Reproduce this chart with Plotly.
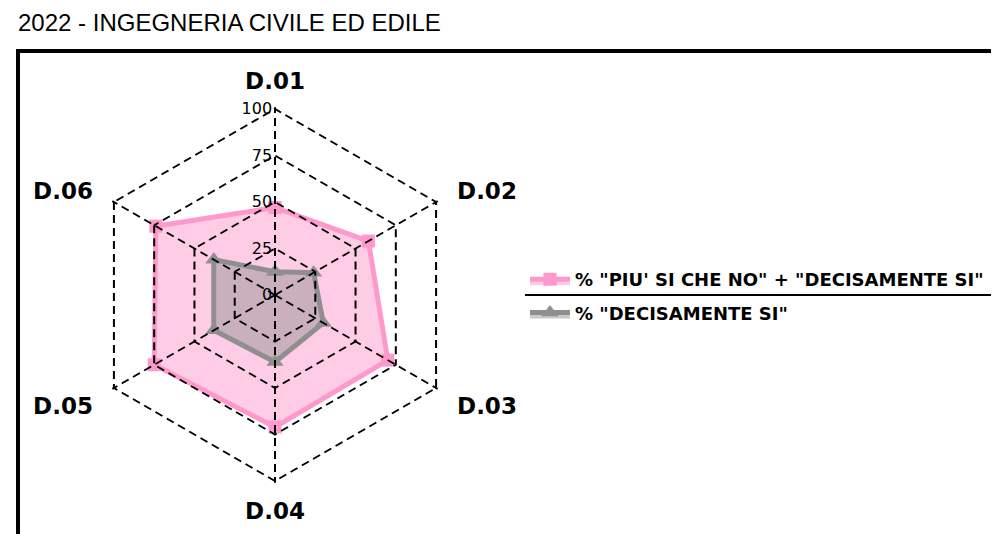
#
# Radar chart - questionario 2022, Ingegneria Civile ed Edile
#

import plotly.graph_objects as go

categories = ["D.01", "D.02", "D.03", "D.04", "D.05", "D.06"]
piu_si_che_no_e_decisamente_si = [47, 58, 70, 71, 75, 74]
decisamente_si = [12.5, 24, 30, 36, 38, 38]
radial_ticks = [0, 25, 50, 75, 100]

name1 = '% "PIU\' SI CHE NO" + "DECISAMENTE SI"'
name2 = '% "DECISAMENTE SI"'

# la pagina ha un margine di 8px: il grafico parte da (8, 8)
W, H = 991, 526
cx, cy = 267, 287
R = 186 * 101 / 100   # raggio del dominio per il range [0, 101]
domain = dict(x=[(cx - R) / W, (cx + R) / W],
              y=[(H - cy - R) / H, (H - cy + R) / H])
grid = dict(gridcolor="black", griddash="8px,5px", gridwidth=1.8)

fig = go.Figure()

fig.add_trace(go.Scatterpolar(
    r=piu_si_che_no_e_decisamente_si + piu_si_che_no_e_decisamente_si[:1],
    theta=categories + categories[:1],
    name=name1, legendgroup="a",
    mode="lines+markers", fill="toself", fillcolor="rgba(255,153,204,0.5)",
    line=dict(color="#ff99cc", width=5),
    marker=dict(symbol="square", size=13, color="#ff99cc")))

fig.add_trace(go.Scatterpolar(
    r=decisamente_si + decisamente_si[:1],
    theta=categories + categories[:1],
    name=name2, legendgroup="b",
    mode="lines+markers", fill="toself", fillcolor="rgba(143,143,143,0.47)",
    line=dict(color="#8f8f8f", width=5),
    marker=dict(symbol="triangle-up", size=15, color="#8f8f8f")))

# secondo polare trasparente sopra: solo la griglia tratteggiata
fig.add_trace(go.Scatterpolar(
    r=[0], theta=categories[:1], subplot="polar2", mode="markers",
    marker=dict(opacity=0), showlegend=False, hoverinfo="skip"))

fig.update_layout(
    width=W, height=H,
    margin=dict(l=0, r=0, t=0, b=0),
    paper_bgcolor="white",
    font=dict(family="DejaVu Sans", color="black"),
    polar=dict(
        domain=domain, gridshape="linear", bgcolor="rgba(0,0,0,0)",
        radialaxis=dict(range=[0, 101], tickvals=radial_ticks,
                        angle=90, tickangle=90, side="counterclockwise",
                        showline=False, ticks="", showgrid=False,
                        tickfont=dict(size=16, family="DejaVu Sans")),
        angularaxis=dict(direction="clockwise", rotation=90,
                         categoryorder="array", categoryarray=categories,
                         tickmode="array", tickvals=categories,
                         ticktext=["\u00a0" + c + "\u00a0" for c in categories],
                         showline=False, ticks="outside", ticklen=8,
                         tickcolor="rgba(0,0,0,0)", showgrid=False,
                         tickfont=dict(size=23, family="DejaVu Sans", weight="bold")),
    ),
    polar2=dict(
        domain=domain, gridshape="linear", bgcolor="rgba(0,0,0,0)",
        radialaxis=dict(range=[0, 101], tickvals=radial_ticks, angle=90,
                        showline=False, ticks="", showticklabels=False, **grid),
        angularaxis=dict(direction="clockwise", rotation=90,
                         categoryorder="array", categoryarray=categories,
                         showline=False, ticks="", showticklabels=False, **grid),
    ),
    legend=dict(x=517 / W, y=1 - 253 / H, xanchor="left", yanchor="top",
                traceorder="grouped", tracegroupgap=7, itemwidth=40,
                font=dict(size=18, family="DejaVu Sans", weight="bold"),
                bgcolor="rgba(0,0,0,0)"),
    showlegend=True,
)

# titolo
fig.add_annotation(text="2022 - INGEGNERIA CIVILE ED EDILE",
                   xref="paper", yref="paper", x=8 / W, y=1 - 15 / H,
                   xanchor="left", yanchor="middle", showarrow=False,
                   font=dict(family="Liberation Sans", size=24, color="black"))

# cornice
fig.add_shape(type="rect", xref="paper", yref="paper",
              x0=10 / W, x1=1.05, y0=-0.05, y1=1 - 43 / H,
              line=dict(color="black", width=4))

# linea sotto la prima voce della legenda
fig.add_shape(type="line", xref="paper", yref="paper",
              x0=517 / W, x1=1.0, y0=1 - 287 / H, y1=1 - 287 / H,
              line=dict(color="black", width=2))

fig.write_html("out.html")
